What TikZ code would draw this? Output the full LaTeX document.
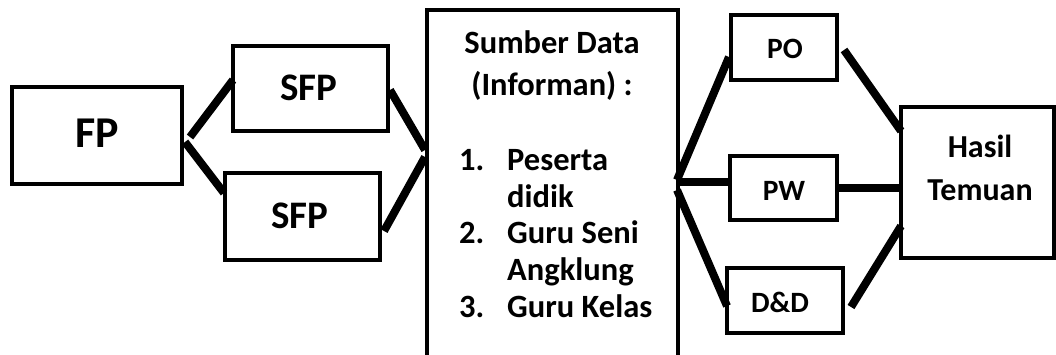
\documentclass[tikz,border=0pt]{standalone}
\usepackage{fontspec}
\setmainfont{Carlito}
\begin{document}
\begin{tikzpicture}[x=1pt,y=-1pt,
  box/.style={draw=black,line width=4pt,line join=miter},
  conn/.style={draw=black,line width=8pt},
  lbl/.style={inner sep=0pt,anchor=base,font=\bfseries},
]
\useasboundingbox (0,0) rectangle (1056,354);
\begin{scope}
\clip (0,0) rectangle (1056,354);
% boxes
\draw[box] (12,87) rectangle (182,184);
\draw[box] (233,46) rectangle (388,131);
\draw[box] (225,173) rectangle (380,260);
\draw[box] (427,10) rectangle (678,370);
\draw[box] (731,15) rectangle (837,80);
\draw[box] (730,156) rectangle (837,220);
\draw[box] (727,268) rectangle (843,333);
\draw[box] (901,107) rectangle (1054,258);
% connector end points
\coordinate (fpA) at (190,137);
\coordinate (sfp1L) at (233,80);
\coordinate (fpB) at (185,142);
\coordinate (sfp2L) at (224,193);
\coordinate (sfp1R) at (390,90);
\coordinate (srcA) at (425,150);
\coordinate (sfp2R) at (384,231);
\coordinate (srcB) at (425,157);
\coordinate (srcR1) at (677,180);
\coordinate (srcR2) at (677,182);
\coordinate (srcR3) at (677,190);
\coordinate (poL) at (729,57);
\coordinate (pwL) at (730,182);
\coordinate (ddL) at (727,306);
\coordinate (poR) at (844,50);
\coordinate (hsA) at (901,131);
\coordinate (pwR) at (837,188);
\coordinate (hsB) at (901,188);
\coordinate (ddR) at (851,307);
\coordinate (hsC) at (901,226);
% connectors
\draw[conn] (fpA) -- (sfp1L);
\draw[conn] (fpB) -- (sfp2L);
\draw[conn] (sfp1R) -- (srcA);
\draw[conn] (sfp2R) -- (srcB);
\draw[conn] (srcR1) -- (poL);
\draw[conn] (srcR2) -- (pwL);
\draw[conn] (srcR3) -- (ddL);
\draw[conn] (poR) -- (hsA);
\draw[conn] (pwR) -- (hsB);
\draw[conn] (ddR) -- (hsC);
\end{scope}
% labels
\node[lbl,font=\bfseries\fontsize{44}{48}\selectfont] (tfp) at (97,147) {FP};
\node[lbl,font=\bfseries\fontsize{39}{44}\selectfont] (tsfp1) at (309,100) {SFP};
\node[lbl,font=\bfseries\fontsize{39}{44}\selectfont] (tsfp2) at (300,228) {SFP};
\begin{scope}[every node/.append style={lbl,font=\bfseries\fontsize{32.5}{36}\selectfont}]
\node (h1) at (552,53) {Sumber Data};
\node (h2) at (552,95) {(Informan) :};
\node[anchor=base west] (n1) at (459,170) {1.};
\node[anchor=base west] (i1a) at (507,170) {Peserta};
\node[anchor=base west] (i1b) at (507,207) {didik};
\node[anchor=base west] (n2) at (459,243) {2.};
\node[anchor=base west] (i2a) at (507,243) {Guru Seni};
\node[anchor=base west] (i2b) at (507,280) {Angklung};
\node[anchor=base west] (n3) at (459,317) {3.};
\node[anchor=base west] (i3) at (507,317) {Guru Kelas};
\end{scope}
\begin{scope}[every node/.append style={lbl,font=\bfseries\fontsize{29.5}{33}\selectfont}]
\node (tpo) at (785,58) {PO};
\node (tpw) at (784,200) {PW};
\node (tdd) at (780,312) {D\&D};
\end{scope}
\begin{scope}[every node/.append style={lbl,font=\bfseries\fontsize{32}{36}\selectfont}]
\node (th1) at (980,157) {Hasil};
\node (th2) at (980,200) {Temuan};
\end{scope}
\end{tikzpicture}
\end{document}
